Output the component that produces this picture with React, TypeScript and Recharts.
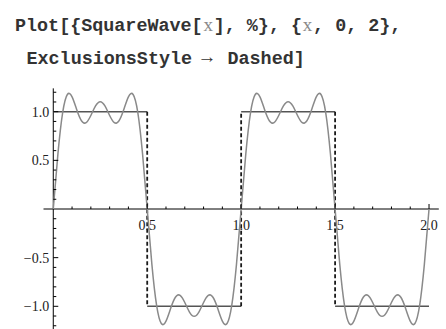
import React from 'react';
import { LineChart, Line, XAxis, YAxis, ReferenceLine, ReferenceDot } from 'recharts';

// Sample positions along x (step 0.025) and the 3-term Fourier partial sum at each
const xSamples = [
  0, 0.025, 0.05, 0.075, 0.1, 0.125, 0.15, 0.175, 0.2, 0.225,
  0.25, 0.275, 0.3, 0.325, 0.35, 0.375, 0.4, 0.425, 0.45, 0.475,
  0.5, 0.525, 0.55, 0.575, 0.6, 0.625, 0.65, 0.675, 0.7, 0.725,
  0.75, 0.775, 0.8, 0.825, 0.85, 0.875, 0.9, 0.925, 0.95, 0.975,
  1, 1.025, 1.05, 1.075, 1.1, 1.125, 1.15, 1.175, 1.2, 1.225,
  1.25, 1.275, 1.3, 1.325, 1.35, 1.375, 1.4, 1.425, 1.45, 1.475,
  1.5, 1.525, 1.55, 1.575, 1.6, 1.625, 1.65, 1.675, 1.7, 1.725,
  1.75, 1.775, 1.8, 1.825, 1.85, 1.875, 1.9, 1.925, 1.95, 1.975,
  2,
];

const fourierValues = [
  0, 0.572, 0.991, 1.177, 1.152, 1.020, 0.907, 0.888, 0.961, 1.059,
  1.103, 1.059, 0.961, 0.888, 0.907, 1.020, 1.152, 1.177, 0.991, 0.572,
  0, -0.572, -0.991, -1.177, -1.152, -1.020, -0.907, -0.888, -0.961, -1.059,
  -1.103, -1.059, -0.961, -0.888, -0.907, -1.020, -1.152, -1.177, -0.991, -0.572,
  0, 0.572, 0.991, 1.177, 1.152, 1.020, 0.907, 0.888, 0.961, 1.059,
  1.103, 1.059, 0.961, 0.888, 0.907, 1.020, 1.152, 1.177, 0.991, 0.572,
  0, -0.572, -0.991, -1.177, -1.152, -1.020, -0.907, -0.888, -0.961, -1.059,
  -1.103, -1.059, -0.961, -0.888, -0.907, -1.020, -1.152, -1.177, -0.991, -0.572,
  0,
];

// Square wave: flat levels between edges, dashed exclusions at the jumps
const squareEdges = [0, 0.5, 1, 1.5, 2];
const squareLevels = [1, -1, 1, -1];
const jumpPositions = [0.5, 1, 1.5];

// Axis ticks
const xMinorTicks = [0.1, 0.2, 0.3, 0.4, 0.6, 0.7, 0.8, 0.9, 1.1, 1.2, 1.3, 1.4, 1.6, 1.7, 1.8, 1.9];
const xMajorTicks = [0.5, 1, 1.5, 2];
const xTickLabels = ['0.5', '1.0', '1.5', '2.0'];
const yMinorTicks = [
  -1.2, -1.1, -0.9, -0.8, -0.7, -0.6, -0.4, -0.3, -0.2, -0.1,
  0.1, 0.2, 0.3, 0.4, 0.6, 0.7, 0.8, 0.9, 1.1, 1.2,
];
const yMajorTicks = [-1, -0.5, 0.5, 1];
const yTickLabels = ['\u22121.0', '\u22120.5', '0.5', '1.0'];

const xDomain: [number, number] = [-0.052, 2.052];
const yDomain: [number, number] = [-1.24, 1.24];

// Input cell text, split where the variable is styled differently
const codeLine1 = ['Plot[{SquareWave[', 'x', '], %}, {', 'x', ', 0, 2},'];
const codeLine2 = ['ExclusionsStyle', '\u2192', 'Dashed]'];

const fourierData = xSamples.map((x, i) => ({ x, v: fourierValues[i] }));
const squareData = squareLevels.flatMap((lvl, i) => [
  { x: squareEdges[i], v: lvl },
  { x: squareEdges[i + 1], v: lvl },
  { x: squareEdges[i + 1], v: null },
]);
const jumpData = jumpPositions.flatMap((x, i) => [
  { x, v: squareLevels[i] },
  { x, v: squareLevels[i + 1] },
  { x, v: null },
]);

const labelFont = "'Liberation Serif', 'Times New Roman', serif";
const codeFont = "'Liberation Mono', 'Courier New', monospace";
const codeSize = 18.4;
const cellW = codeSize * 0.6;

const xTick = (len: number, label?: string) => (p: any) => (
  <g>
    <line x1={p.cx} y1={p.cy} x2={p.cx} y2={p.cy - len} stroke="#000" strokeWidth={1} />
    {label ? (
      <text x={p.cx} y={p.cy + 21} textAnchor="middle" fontFamily={labelFont} fontSize={14} fill="#222">
        {label}
      </text>
    ) : null}
  </g>
);

const yTick = (len: number, label?: string) => (p: any) => (
  <g>
    <line x1={p.cx} y1={p.cy} x2={p.cx + len} y2={p.cy} stroke="#000" strokeWidth={1} />
    {label ? (
      <text x={p.cx - 4} y={p.cy + 5} textAnchor="end" fontFamily={labelFont} fontSize={14} fill="#222">
        {label}
      </text>
    ) : null}
  </g>
);

function CodeLine1() {
  let col = 0;
  return (
    <g>
      {codeLine1.map((part, i) => {
        const start = 15 + col * cellW;
        col += part.length;
        if (part === 'x') {
          return (
            <text key={i} x={start + cellW / 2} y={30.5} textAnchor="middle" fontFamily={labelFont} fontSize={19} fill="#8a8a8a">
              {part}
            </text>
          );
        }
        return (
          <text key={i} x={start} y={30.5} fontFamily={codeFont} fontSize={codeSize} fontWeight="bold" fill="#333" xmlSpace="preserve" style={{ whiteSpace: 'pre' }}>
            {part}
          </text>
        );
      })}
    </g>
  );
}

export default function App() {
  return (
    <div style={{ position: 'absolute', left: 0, top: 0, width: 446, height: 329, overflow: 'hidden', background: '#fff' }}>
      <svg width={446} height={80} style={{ position: 'absolute', left: 0, top: 0 }}>
        <CodeLine1 />
        <text x={26.5} y={64} fontFamily={codeFont} fontSize={codeSize} fontWeight="bold" fill="#333">
          {codeLine2[0]}
        </text>
        <text x={207} y={63} textAnchor="middle" fontFamily={labelFont} fontSize={19} fill="#333">
          {codeLine2[1]}
        </text>
        <text x={227.5} y={64} fontFamily={codeFont} fontSize={codeSize} fontWeight="bold" fill="#333">
          {codeLine2[2]}
        </text>
      </svg>
      <div style={{ position: 'absolute', left: 0, top: 0 }}>
        <LineChart width={446} height={340} margin={{ top: 88.35, right: 7.2, bottom: 10.35, left: 43.5 }}>
          <XAxis dataKey="x" type="number" domain={xDomain} allowDataOverflow hide />
          <YAxis type="number" domain={yDomain} allowDataOverflow hide />
          <ReferenceLine y={0} stroke="#000" strokeWidth={1} />
          <ReferenceLine x={0} stroke="#000" strokeWidth={1} />
          {xMinorTicks.map((t) => (
            <ReferenceDot key={`xm${t}`} x={t} y={0} r={0} shape={xTick(2.5)} />
          ))}
          {xMajorTicks.map((t, i) => (
            <ReferenceDot key={`xM${t}`} x={t} y={0} r={0} shape={xTick(5, xTickLabels[i])} />
          ))}
          {yMinorTicks.map((t) => (
            <ReferenceDot key={`ym${t}`} x={0} y={t} r={0} shape={yTick(3)} />
          ))}
          {yMajorTicks.map((t, i) => (
            <ReferenceDot key={`yM${t}`} x={0} y={t} r={0} shape={yTick(5, yTickLabels[i])} />
          ))}
          <Line data={squareData} dataKey="v" type="linear" stroke="#555" strokeWidth={1.5} dot={false} isAnimationActive={false} />
          <Line data={jumpData} dataKey="v" type="linear" stroke="#1a1a1a" strokeWidth={1.8} strokeDasharray="4 2.5" dot={false} isAnimationActive={false} />
          <Line data={fourierData} dataKey="v" type="natural" stroke="#8a8a8a" strokeWidth={1.5} dot={false} isAnimationActive={false} />
        </LineChart>
      </div>
    </div>
  );
}
